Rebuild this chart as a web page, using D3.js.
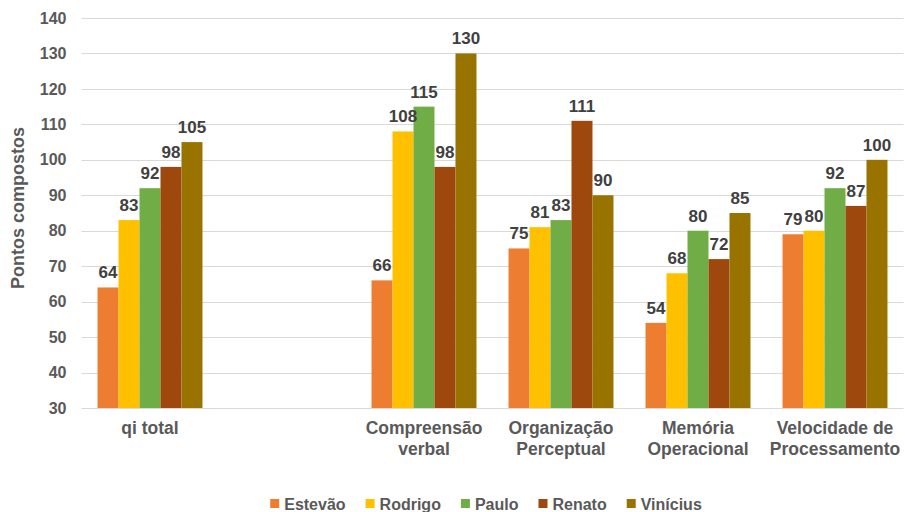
<!DOCTYPE html>
<html>
<head>
<meta charset="utf-8">
<script src="https://cdn.jsdelivr.net/npm/d3@7"></script>
<style>
  html, body { margin: 0; padding: 0; background: #ffffff; }
  svg { display: block; font-family: "Liberation Sans", Arial, sans-serif; }
</style>
</head>
<body>
<svg id="chart" width="905" height="512"></svg>
<script>
// Categories (the empty entry leaves a blank slot after "qi total")
const categories = ["qi total", "", "Compreensão\nverbal", "Organização\nPerceptual", "Memória\nOperacional", "Velocidade de\nProcessamento"];
const seriesNames = ["Estevão", "Rodrigo", "Paulo", "Renato", "Vinícius"];
const seriesColors = ["#ED7D31", "#FFC000", "#70AD47", "#9E480E", "#997300"];

// Composite scores per person, one value per category (null = no bar)
const estevao  = [64, null,  66, 75,  54, 79];
const rodrigo  = [83, null, 108, 81,  68, 80];
const paulo    = [92, null, 115, 83,  80, 92];
const renato   = [98, null,  98, 111, 72, 87];
const vinicius = [105, null, 130, 90, 85, 100];
const seriesValues = [estevao, rodrigo, paulo, renato, vinicius];

const yTicks = [30, 40, 50, 60, 70, 80, 90, 100, 110, 120, 130, 140];
const yTitle = "Pontos compostos";

const svg = d3.select("#chart");
const plot = { left: 81.5, right: 903.5, top: 18, bottom: 408 };

const x0 = d3.scaleBand()
  .domain(categories.map((c, i) => i))
  .range([plot.left, plot.right])
  .paddingInner(0.234)
  .paddingOuter(0.117);

const x1 = d3.scaleBand()
  .domain(seriesNames)
  .range([0, x0.bandwidth()])
  .padding(0);

const y = d3.scaleLinear().domain([30, 140]).range([plot.bottom, plot.top]);

// Horizontal gridlines
svg.append("g")
  .selectAll("line")
  .data(yTicks)
  .join("line")
  .attr("x1", plot.left)
  .attr("x2", plot.right)
  .attr("y1", d => Math.round(y(d)) + 0.5)
  .attr("y2", d => Math.round(y(d)) + 0.5)
  .attr("stroke", "#d9d9d9")
  .attr("stroke-width", 1);

// Y axis labels
const yAxis = d3.axisLeft(y).tickValues(yTicks).tickSize(0).tickPadding(0);
const yg = svg.append("g")
  .attr("transform", `translate(${plot.left - 15},0)`)
  .call(yAxis);
yg.select(".domain").remove();
yg.selectAll("text")
  .attr("fill", "#595959")
  .attr("font-size", "16px")
  .attr("font-weight", "bold")
  .attr("font-family", "Liberation Sans, Arial, sans-serif");

// Y axis title
svg.append("text")
  .attr("transform", `translate(24,208) rotate(-90)`)
  .attr("text-anchor", "middle")
  .attr("fill", "#595959")
  .attr("font-size", "18px")
  .attr("font-weight", "bold")
  .text(yTitle);

// Bars and value labels
const rows = [];
categories.forEach((c, ci) => {
  seriesNames.forEach((s, si) => {
    const v = seriesValues[si][ci];
    if (v != null) rows.push({ ci, s, si, v });
  });
});

svg.append("g")
  .selectAll("rect")
  .data(rows)
  .join("rect")
  .attr("x", d => x0(d.ci) + x1(d.s))
  .attr("width", x1.bandwidth())
  .attr("y", d => y(d.v))
  .attr("height", d => y(30) - y(d.v))
  .attr("fill", d => seriesColors[d.si]);

svg.append("g")
  .selectAll("text")
  .data(rows)
  .join("text")
  .attr("x", d => x0(d.ci) + x1(d.s) + x1.bandwidth() / 2)
  .attr("y", d => y(d.v) - 9)
  .attr("text-anchor", "middle")
  .attr("fill", "#404040")
  .attr("font-size", "17px")
  .attr("font-weight", "bold")
  .text(d => d.v);

// Category labels (multi-line)
const catG = svg.append("g");
categories.forEach((c, ci) => {
  if (!c) return;
  const t = catG.append("text")
    .attr("x", x0(ci) + x0.bandwidth() / 2)
    .attr("y", 434)
    .attr("text-anchor", "middle")
    .attr("fill", "#595959")
    .attr("font-size", "17.5px")
    .attr("font-weight", "bold");
  c.split("\n").forEach((line, li) => {
    t.append("tspan")
      .attr("x", x0(ci) + x0.bandwidth() / 2)
      .attr("dy", li === 0 ? 0 : 21)
      .text(line);
  });
});

// Legend
const legend = svg.append("g");
const items = legend.selectAll("g")
  .data(seriesNames)
  .join("g");
items.append("rect")
  .attr("width", 9)
  .attr("height", 9)
  .attr("y", 499)
  .attr("fill", (d, i) => seriesColors[i]);
items.append("text")
  .attr("x", 14)
  .attr("y", 510)
  .attr("fill", "#595959")
  .attr("font-size", "16px")
  .attr("font-weight", "bold")
  .text(d => d);

let widths = [];
items.each(function () {
  widths.push(14 + d3.select(this).select("text").node().getComputedTextLength());
});
const gap = 20;
const total = d3.sum(widths) + gap * (widths.length - 1);
let cx = 486 - total / 2;
items.each(function (d, i) {
  d3.select(this).attr("transform", `translate(${cx},0)`);
  cx += widths[i] + gap;
});
</script>
</body>
</html>
